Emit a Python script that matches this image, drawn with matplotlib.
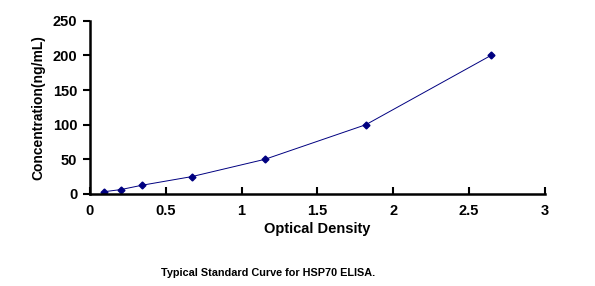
import matplotlib.pyplot as plt

# standard curve points
od = [0.092, 0.204, 0.343, 0.672, 1.154, 1.819, 2.643]
conc = [3.12, 6.25, 12.5, 25, 50, 100, 200]

xticks = [0, 0.5, 1, 1.5, 2, 2.5, 3]
xlabels = ["0", "0.5", "1", "1.5", "2", "2.5", "3"]
yticks = [0, 50, 100, 150, 200, 250]

plt.rcParams['font.family'] = ['Liberation Sans', 'DejaVu Sans']

fig = plt.figure(figsize=(5.95, 2.86), dpi=100)
ax = fig.add_axes([0.151, 0.322, 0.765, 0.605])

ax.plot(od, conc, color='#000080', lw=0.7, marker='D', ms=3.5,
        markerfacecolor='#000080', markeredgecolor='#000080')

ax.set_xlim(0, 3)
ax.set_ylim(0, 250)
ax.set_xticks(xticks)
ax.set_xticklabels(xlabels)
ax.set_yticks(yticks)

for s in ['top', 'right']:
    ax.spines[s].set_visible(False)
for s in ['left', 'bottom']:
    ax.spines[s].set_linewidth(1.8)

ax.tick_params(axis='x', direction='in', length=5, width=1.5, labelsize=10.5, pad=7)
ax.tick_params(axis='y', direction='out', length=5, width=1.5, labelsize=10.5, pad=4)
for lab in ax.get_xticklabels() + ax.get_yticklabels():
    lab.set_fontweight('bold')

ax.set_xlabel("Optical Density", fontsize=10.5, fontweight='bold', labelpad=3)
ax.set_ylabel("Concentration(ng/mL)", fontsize=10, fontweight='bold', labelpad=5)

fig.text(0.45, 0.035, "Typical Standard Curve for HSP70 ELISA.", ha='center',
         fontsize=7.8, fontweight='bold',
         family=['Liberation Sans Narrow', 'Liberation Sans', 'DejaVu Sans'])

fig.savefig("out.png", dpi=100)
